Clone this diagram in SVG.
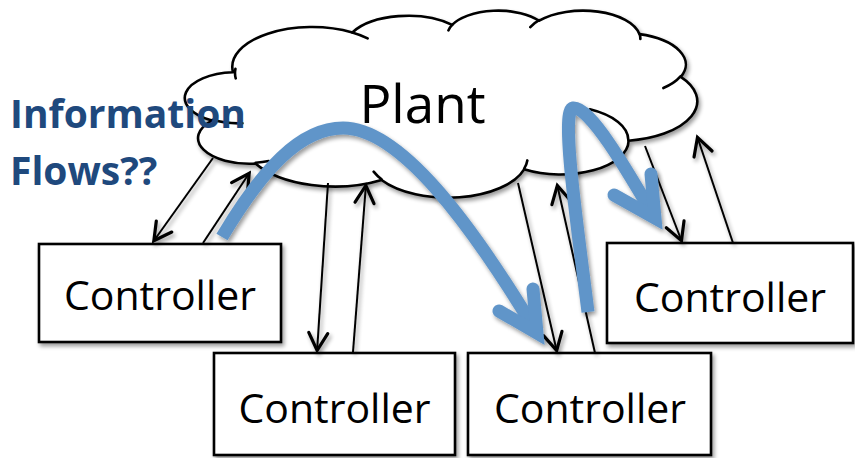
<svg xmlns="http://www.w3.org/2000/svg" width="855" height="458" viewBox="0 0 855 458">
  <defs>
    <style>
      .box { fill: #fff; stroke: #000; stroke-width: 2.6; }
      .lbl { font-family: "Open Sans", "Liberation Sans", sans-serif; font-size: 41px; fill: #000; text-anchor: middle; }
      .cloud { fill: #fff; stroke: #000; stroke-width: 2.6; stroke-linejoin: round; }
      .stub { fill: none; stroke: #000; stroke-width: 2.6; stroke-linecap: round; }
      .link { fill: none; stroke: #000; stroke-width: 2; marker-end: url(#ah); }
      .flow { fill: none; stroke: #6195c9; stroke-width: 13; }
      .flow-head { fill: none; stroke: #6195c9; stroke-width: 13; stroke-linejoin: miter; stroke-linecap: round; }
      .note { font-family: "Open Sans", "Liberation Sans", sans-serif; font-size: 39px; font-weight: 700; fill: #1f497d; }
    </style>
    <!-- soft drop shadow used by shapes and connectors -->
    <filter id="sh" filterUnits="userSpaceOnUse" x="0" y="0" width="855" height="458">
      <feGaussianBlur in="SourceAlpha" stdDeviation="2"/>
      <feOffset dx="2" dy="3" result="o"/>
      <feComponentTransfer><feFuncA type="linear" slope="0.4"/></feComponentTransfer>
      <feMerge><feMergeNode/><feMergeNode in="SourceGraphic"/></feMerge>
    </filter>
    <!-- open arrowhead for the thin connectors -->
    <marker id="ah" markerUnits="userSpaceOnUse" markerWidth="30" markerHeight="30" viewBox="-25 -15 30 30" refX="0" refY="0" orient="auto" overflow="visible">
      <path d="M-19,-9.5 L-1.5,0 L-19,9.5" fill="none" stroke="#000" stroke-width="3.2" stroke-linejoin="miter" stroke-linecap="round"/>
    </marker>
  </defs>

  <!-- plant: cloud shape -->
  <g id="plant">
    <g filter="url(#sh)">
      <path class="cloud" d="M233.04,72.20
        A79.73,39.78 0 0 1 352.34,32.51
        A62.96,31.46 0 0 1 452.12,24.85
        A51.53,25.73 0 0 1 539.21,20.74
        A57.34,28.55 0 0 1 639.38,34.13
        A62.96,31.48 0 0 1 680.72,76.91
        A79.99,39.91 0 0 1 628.59,140.73
        A68.30,34.05 0 0 1 524.12,169.34
        A79.71,39.89 0 0 1 381.56,179.97
        A91.14,45.64 0 0 1 255.51,163.54
        A51.47,25.62 0 0 1 211.95,120.58
        A51.30,25.73 0 0 1 233.04,72.20 Z"/>
      <path class="stub" d="M242.41,123.31 A51.30,25.73 0 0 1 212.49,119.86
        M268.79,161.07 A51.47,25.62 0 0 1 255.70,162.72
        M381.54,179.21 A79.71,39.89 0 0 1 373.65,171.67
        M527.33,160.43 A79.71,39.89 0 0 1 524.18,168.69
        M589.93,109.36 A68.30,34.05 0 0 1 628.32,140.25
        M680.47,76.46 A62.96,31.48 0 0 1 663.36,88.05
        M639.45,33.49 A57.34,28.55 0 0 1 640.36,38.96
        M530.29,27.11 A57.34,28.55 0 0 1 539.07,20.12
        M448.40,30.43 A51.53,25.73 0 0 1 452.63,24.42
        M352.28,32.47 A79.73,39.78 0 0 1 367.64,38.32
        M235.72,78.35 A79.73,39.78 0 0 1 235.42,68.87"/>
    </g>
    <text x="422.5" y="123" font-family="Open Sans, Liberation Sans, sans-serif" font-size="53" text-anchor="middle" fill="#000">Plant</text>
  </g>

  <!-- controllers -->
  <g id="controller-1">
    <rect class="box" x="39" y="244" width="242" height="98" filter="url(#sh)"/>
    <text class="lbl" x="160" y="310">Controller</text>
  </g>
  <g id="controller-2">
    <rect class="box" x="214" y="353" width="241" height="102" filter="url(#sh)"/>
    <text class="lbl" x="334.5" y="423">Controller</text>
  </g>
  <g id="controller-3">
    <rect class="box" x="468" y="353" width="243" height="102" filter="url(#sh)"/>
    <text class="lbl" x="590" y="423">Controller</text>
  </g>
  <g id="controller-4">
    <rect class="box" x="607" y="243" width="246" height="100" filter="url(#sh)"/>
    <text class="lbl" x="730" y="312">Controller</text>
  </g>

  <!-- plant/controller links -->
  <g id="connectors" filter="url(#sh)">
    <line class="link" x1="213" y1="158" x2="153" y2="242"/>
    <line class="link" x1="203" y1="243" x2="250" y2="172"/>
    <line class="link" x1="328" y1="183" x2="317" y2="352"/>
    <line class="link" x1="353" y1="352" x2="366" y2="184"/>
    <line class="link" x1="518" y1="183" x2="557" y2="352"/>
    <line class="link" x1="595" y1="353" x2="557" y2="184"/>
    <line class="link" x1="645" y1="146" x2="682" y2="242"/>
    <line class="link" x1="733" y1="243" x2="697" y2="136"/>
  </g>

  <!-- caption -->
  <g id="caption">
    <text class="note" x="10" y="128">Information</text>
    <text class="note" x="10" y="185">Flows??</text>
  </g>

  <!-- information flow arrows -->
  <g id="flows" filter="url(#sh)">
    <path class="flow" d="M222,237 C262,170 300,128 343,128 C400,128 470,222 537,333"/>
    <path class="flow-head" d="M533,289 L537,333 L499,311"/>
    <path class="flow" d="M588,312 C578,230 560,110 573,108 C590,106 628,172 655,218"/>
    <path class="flow-head" d="M651,174 L655,218 L614,195"/>
  </g>
</svg>
